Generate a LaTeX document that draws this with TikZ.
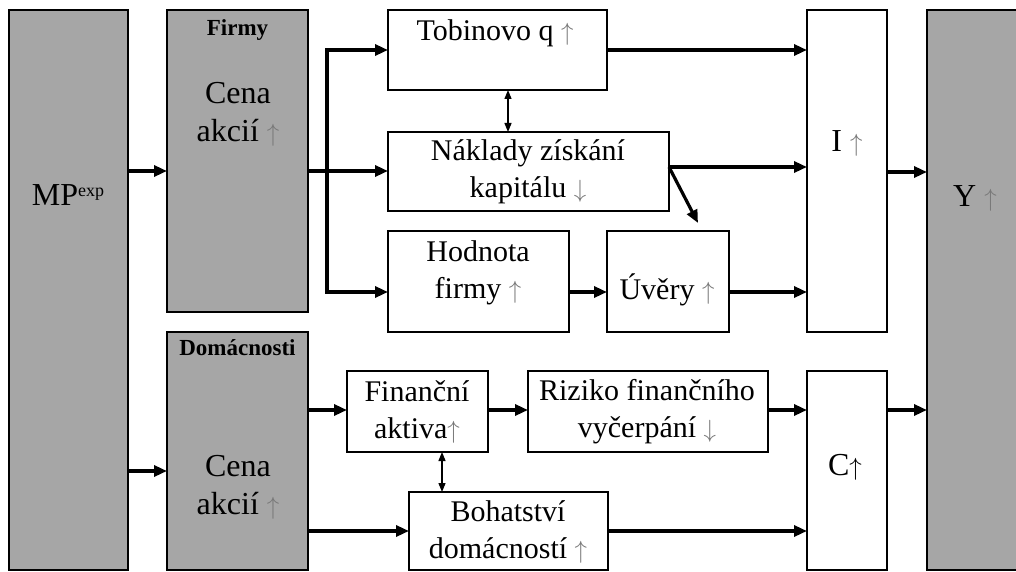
\documentclass[tikz,border=0pt]{standalone}
\usepackage{fontspec}
\setmainfont{Liberation Serif}
\usetikzlibrary{arrows.meta}
\definecolor{boxgray}{RGB}{166,166,166}
\definecolor{arrowgray}{RGB}{120,120,120}
\newcommand\UpA{{\color{arrowgray}$\uparrow$}}
\newcommand\DownA{{\color{arrowgray}$\downarrow$}}
\begin{document}
\begin{tikzpicture}[x=1pt,y=-1pt,
  box/.style={draw=black, line width=1.8pt, fill=white, inner sep=0pt, outer sep=0pt},
  gbox/.style={box, fill=boxgray},
  txt/.style={align=center, inner sep=0pt, font=\fontsize{30}{37}\selectfont},
  bigtxt/.style={align=center, inner sep=0pt, font=\fontsize{32}{38}\selectfont},
  ttl/.style={inner sep=0pt, font=\fontsize{23}{26}\selectfont\bfseries},
  arr/.style={line width=3.2pt, -{Triangle[length=13pt,width=11pt]}},
  link/.style={line width=3.2pt},
  dbl/.style={line width=1.3pt, {Triangle[length=9pt,width=7pt]}-{Triangle[length=9pt,width=7pt]}}
]
\useasboundingbox (0,0) rectangle (1016,572);
\clip (0,0) rectangle (1016,572);

% boxes
\node[gbox, minimum width=119, minimum height=560] (mp) at (68.5,290) {};
\node[gbox, minimum width=141, minimum height=302] (firmy) at (237.5,161) {};
\node[gbox, minimum width=141, minimum height=238] (dom) at (237.5,451) {};
\node[box, minimum width=219, minimum height=80] (tobin) at (497.5,50) {};
\node[box, minimum width=281, minimum height=79] (naklady) at (528.5,171.5) {};
\node[box, minimum width=181, minimum height=101] (hodnota) at (478.5,281.5) {};
\node[box, minimum width=122, minimum height=101] (uvery) at (668,281.5) {};
\node[box, minimum width=80, minimum height=322] (inv) at (847,171) {};
\node[gbox, minimum width=103, minimum height=560] (yy) at (978.5,290) {};
\node[box, minimum width=141, minimum height=81] (fin) at (417.5,411.5) {};
\node[box, minimum width=240, minimum height=81] (riz) at (648,411.5) {};
\node[box, minimum width=199, minimum height=78] (boh) at (508.5,531) {};
\node[box, minimum width=80, minimum height=199] (cc) at (847,470.5) {};

% texts
\node[bigtxt] (tmp) at (68,195) {MP\raisebox{9pt}{\fontsize{18}{18}\selectfont exp}};
\node[ttl] (tfirmy) at (237.5,30) {Firmy};
\node[bigtxt] (tcena1) at (238,114) {Cena\\akcií \UpA};
\node[ttl] (tdom) at (237.5,348) {Domácnosti};
\node[bigtxt] (tcena2) at (238,487) {Cena\\akcií \UpA};
\node[txt] (ttobin) at (495,33) {Tobinovo q \UpA};
\node[txt] (tnakl) at (528,172) {Náklady získání\\kapitálu \DownA};
\node[txt] (thodn) at (478,273) {Hodnota\\firmy \UpA};
\node[txt] (tuv) at (667,290) {Úvěry \UpA};
\node[bigtxt] (tinv) at (847,143) {I \UpA};
\node[bigtxt] (tyy) at (975,198) {Y \UpA};
\node[txt] (tfin) at (417,412) {Finanční\\aktiva\UpA};
\node[txt] (triz) at (647,412) {Riziko finančního\\vyčerpání \DownA};
\node[txt] (tboh) at (508,532) {Bohatství\\domácností \UpA};
\node[bigtxt] (tcc) at (845,467) {C$\uparrow$};

% levels of the connectors
\coordinate (r1) at (0,171);
\coordinate (r2) at (0,167);
\coordinate (r3) at (0,292);
\coordinate (r4) at (0,172);
\coordinate (r5) at (0,410);
\coordinate (r6) at (0,471);
\coordinate (r7) at (0,531);
\coordinate (bus) at (327,171);
\coordinate (ntip) at (698,223);
\coordinate (c1) at (508,0);
\coordinate (c2) at (442,0);

% firms
\draw[arr] (mp.east |- r1) -- (firmy.west |- r1);
\draw[link] (firmy.east |- r1) -- (bus);
\draw[arr] (bus) |- (tobin.west);
\draw[arr] (bus) -- (naklady.west |- bus);
\draw[arr] (bus) |- (hodnota.west |- r3);
\draw[dbl] (tobin.south -| c1) -- (naklady.north -| c1);
\draw[arr] (tobin.east) -- (inv.west |- tobin.east);
\draw[arr] (naklady.east |- r2) -- (inv.west |- r2);
\draw[arr] (naklady.east |- r2) -- (ntip);
\draw[arr] (hodnota.east |- r3) -- (uvery.west |- r3);
\draw[arr] (uvery.east |- r3) -- (inv.west |- r3);
\draw[arr] (inv.east |- r4) -- (yy.west |- r4);

% households
\draw[arr] (mp.east |- r6) -- (dom.west |- r6);
\draw[arr] (dom.east |- r5) -- (fin.west |- r5);
\draw[arr] (fin.east |- r5) -- (riz.west |- r5);
\draw[arr] (riz.east |- r5) -- (cc.west |- r5);
\draw[arr] (cc.east |- r5) -- (yy.west |- r5);
\draw[dbl] (fin.south -| c2) -- (boh.north -| c2);
\draw[arr] (dom.east |- r7) -- (boh.west |- r7);
\draw[arr] (boh.east |- r7) -- (cc.west |- r7);
\end{tikzpicture}
\end{document}
